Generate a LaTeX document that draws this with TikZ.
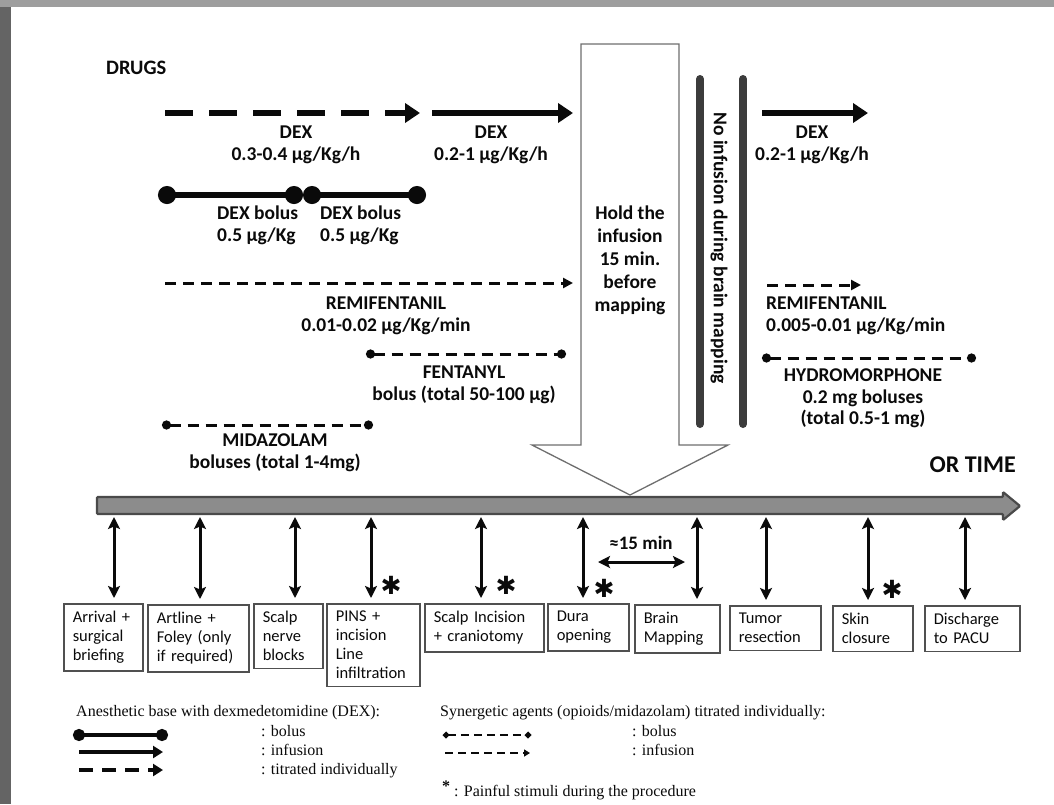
\documentclass[tikz,border=0pt]{standalone}
\usepackage{fontspec}
\setmainfont{Carlito}
\newfontfamily\legendfont{Liberation Serif}
\newfontfamily\markfont{DejaVu Sans}
\usetikzlibrary{positioning, arrows.meta, calc}

\definecolor{framegray}{HTML}{646464}
\definecolor{topgray}{HTML}{9E9E9E}
\definecolor{barfill}{HTML}{8C8C8C}
\definecolor{bardraw}{HTML}{4A4A4A}
\definecolor{holdgray}{HTML}{6E6E6E}
\definecolor{mapbar}{HTML}{3C3C3C}
\definecolor{boxgray}{HTML}{505050}
\definecolor{ink}{HTML}{0A0A0A}

\begin{document}
\begin{tikzpicture}[
    x=1pt, y=-1pt,
    dex_infusion/.style={line width=6.5pt, ink, -{Triangle[length=15pt, width=19pt]}},
    dex_titrated/.style={dex_infusion, dash pattern=on 28pt off 16pt},
    dex_bolus/.style={line width=5.5pt, ink, {Circle[length=18pt]}-{Circle[length=18pt]}},
    syn_infusion/.style={line width=3pt, ink, dash pattern=on 11pt off 7pt, -{Triangle[length=10pt, width=10pt]}},
    syn_bolus/.style={line width=3pt, ink, dash pattern=on 11pt off 7pt, {Circle[length=9pt]}-{Circle[length=9pt]}},
    drug_label/.style={font=\bfseries\fontsize{19.5}{21.5}\selectfont, text=ink, align=center, inner sep=0pt},
    event_box/.style={draw=boxgray, line width=1.5pt, anchor=north west, align=left, inner xsep=9pt, inner ysep=7.5pt, text=ink, font=\fontsize{16.5}{19}\selectfont},
    event_link/.style={line width=3pt, ink, {Stealth[length=12pt, width=12pt, inset=2.5pt]}-{Stealth[length=12pt, width=12pt, inset=2.5pt]}},
    pain_mark/.style={font=\markfont\fontsize{25}{25}\selectfont, text=ink, inner sep=0pt},
    legend_text/.style={font=\legendfont\fontsize{16}{18}\selectfont, text=ink, anchor=base west, inner sep=0pt}
  ]
  \useasboundingbox (0,0) rectangle (1054,804);

  % photo frame
  \fill[framegray] (0,0) rectangle (11,804);
  \fill[topgray] (0,0) rectangle (1054,7);

  \node[drug_label, font=\bfseries\fontsize{20.5}{22}\selectfont, anchor=north west] (drugs) at (106,61) {DRUGS};

  % hold arrow and mapping bars
  \draw[holdgray, line width=1.3pt, fill=white] (581,44) -- (679,44) -- (679,445) -- (728,445)
      -- (630,495) -- (532,445) -- (581,445) -- cycle;
  \node[drug_label, font=\bfseries\fontsize{19.5}{23}\selectfont, anchor=north] (hold) at (630,206)
      {Hold the\\infusion\\15 min.\\before\\mapping};
  \draw[mapbar, line width=8pt, line cap=round] (700,79) -- (700,424);
  \draw[mapbar, line width=8pt, line cap=round] (743,79) -- (743,424);
  \node[drug_label, rotate=-90] (nomap) at (719,248) {No infusion during brain mapping};

  % DEX
  \coordinate (dex1s) at (165,113);
  \coordinate (dex1e) at (420,113);
  \draw[dex_titrated] (dex1s) -- (dex1e);
  \node[drug_label, anchor=north] (dex1) at (296,126) {DEX\\0.3-0.4 µg/Kg/h};

  \coordinate (dex2s) at (432,113);
  \coordinate (dex2e) at (573,113);
  \draw[dex_infusion] (dex2s) -- (dex2e);
  \node[drug_label, anchor=north] (dex2) at (491,126) {DEX\\0.2-1 µg/Kg/h};

  \coordinate (dex3s) at (762,113);
  \coordinate (dex3e) at (868,113);
  \draw[dex_infusion] (dex3s) -- (dex3e);
  \node[drug_label, anchor=north] (dex3) at (812,126) {DEX\\0.2-1 µg/Kg/h};

  \coordinate (bol1s) at (158,195);
  \coordinate (bol1e) at (303,195);
  \coordinate (bol2e) at (426,195);
  \draw[dex_bolus] (bol1s) -- (bol1e);
  \draw[dex_bolus] (bol1e) -- (bol2e);
  \node[drug_label, anchor=north west, align=left] (bol1) at (217,206) {DEX bolus\\0.5 µg/Kg};
  \node[drug_label, anchor=north west, align=left] (bol2) at (320,206) {DEX bolus\\0.5 µg/Kg};

  % opioids and midazolam
  \coordinate (remi1s) at (165,283);
  \coordinate (remi1e) at (573,283);
  \draw[syn_infusion] (remi1s) -- (remi1e);
  \node[drug_label, anchor=north] (remi1) at (386,297) {REMIFENTANIL\\0.01-0.02 µg/Kg/min};

  \coordinate (fentS) at (366,354);
  \coordinate (fentE) at (566,354);
  \draw[syn_bolus] (fentS) -- (fentE);
  \node[drug_label, anchor=north] (fent) at (464,366) {FENTANYL\\bolus (total 50-100 µg)};

  \coordinate (midaS) at (162,425);
  \coordinate (midaE) at (373,425);
  \draw[syn_bolus] (midaS) -- (midaE);
  \node[drug_label, anchor=north] (mida) at (275,434) {MIDAZOLAM\\boluses (total 1-4mg)};

  \coordinate (remi2s) at (767,285);
  \coordinate (remi2e) at (861,285);
  \draw[syn_infusion] (remi2s) -- (remi2e);
  \node[drug_label, anchor=north west, align=left] (remi2) at (766,297) {REMIFENTANIL\\0.005-0.01 µg/Kg/min};

  \coordinate (hydroS) at (762,358);
  \coordinate (hydroE) at (976,358);
  \draw[syn_bolus] (hydroS) -- (hydroE);
  \node[drug_label, anchor=north] (hydro) at (863,369) {HYDROMORPHONE\\0.2 mg boluses\\(total 0.5-1 mg)};

  % OR time line
  \draw[bardraw, line width=2.2pt, fill=barfill, rounded corners=1pt] (97,497) -- (1003,497) -- (1003,492)
      -- (1020,506) -- (1003,520) -- (1003,514) -- (97,514) -- cycle;
  \node[drug_label, font=\bfseries\fontsize{24}{26}\selectfont, anchor=north east] (ortime) at (1016,457) {OR TIME};

  % events
  \node[event_box, text width=61pt] (arrival) at (63,603) {Arrival +\\surgical\\briefing};
  \node[event_box, text width=83pt] (artline) at (147,604) {Artline +\\Foley (only\\if required)};
  \node[event_box, text width=51pt] (nerve) at (253,603) {Scalp\\nerve\\blocks};
  \node[event_box, text width=75pt] (pins) at (326,603) {PINS +\\incision\\Line\\infiltration};
  \node[event_box, text width=101pt] (incision) at (424,603) {Scalp Incision\\+ craniotomy};
  \node[event_box, text width=63pt] (dura) at (547,603) {Dura\\opening};
  \node[event_box, text width=67pt] (mapping) at (634,604) {Brain\\Mapping};
  \node[event_box, text width=73pt] (tumor) at (729,605) {Tumor\\resection};
  \node[event_box, text width=62pt] (skin) at (832,605) {Skin\\closure};
  \node[event_box, text width=77pt] (pacu) at (924,605) {Discharge\\to PACU};

  \foreach \x/\b in {114/arrival, 200/artline, 295/nerve, 371/pins, 481/incision,
                     583/dura, 697/mapping, 766/tumor, 868/skin, 965/pacu} {
    \coordinate (e-\b) at (\x,517);
    \draw[event_link, shorten >=5pt] (e-\b) -- (e-\b |- \b.north);
  }

  \coordinate (gapL) at (598,562);
  \coordinate (gapR) at (685,562);
  \draw[event_link] (gapL) -- (gapR);
  \node[drug_label, font=\bfseries\fontsize{19}{21}\selectfont] (gap) at (641,543) {≈15 min};

  \foreach \x/\y/\n in {391/585/pinsmark, 506/585/incmark, 604/588/duramark, 892/589/skinmark}
    \node[pain_mark] (\n) at (\x,\y) {✱};

  % legend
  \node[legend_text] (legdex) at (76,716) {Anesthetic base with dexmedetomidine (DEX):};
  \coordinate (ld1s) at (73,735);
  \coordinate (ld1e) at (168,735);
  \draw[line width=4.5pt, ink, {Circle[length=12pt]}-{Circle[length=12pt]}] (ld1s) -- (ld1e);
  \coordinate (ld2s) at (79,752);
  \coordinate (ld2e) at (163,752);
  \draw[line width=4.5pt, ink, -{Triangle[length=10pt, width=12pt]}] (ld2s) -- (ld2e);
  \coordinate (ld3s) at (79,770);
  \coordinate (ld3e) at (163,770);
  \draw[line width=4.5pt, ink, dash pattern=on 14pt off 9pt, -{Triangle[length=10pt, width=12pt]}] (ld3s) -- (ld3e);
  \node[legend_text] (ldt1) at (261,736) {: bolus};
  \node[legend_text] (ldt2) at (261,755) {: infusion};
  \node[legend_text] (ldt3) at (261,774) {: titrated individually};

  \node[legend_text] (legsyn) at (440,716) {Synergetic agents (opioids/midazolam) titrated individually:};
  \coordinate (ls1s) at (443,735);
  \coordinate (ls1e) at (531,735);
  \draw[line width=2.5pt, ink, dash pattern=on 8pt off 5pt, {Circle[length=6pt]}-{Circle[length=6pt]}] (ls1s) -- (ls1e);
  \coordinate (ls2s) at (445,753);
  \coordinate (ls2e) at (530,753);
  \draw[line width=2.5pt, ink, dash pattern=on 8pt off 5pt, -{Triangle[length=6pt, width=7pt]}] (ls2s) -- (ls2e);
  \node[legend_text] (lst1) at (632,736) {: bolus};
  \node[legend_text] (lst2) at (632,755) {: infusion};
  \node[legend_text] (lpain) at (442,796) {\raisebox{5pt}{\bfseries *} : Painful stimuli during the procedure};
\end{tikzpicture}
\end{document}
